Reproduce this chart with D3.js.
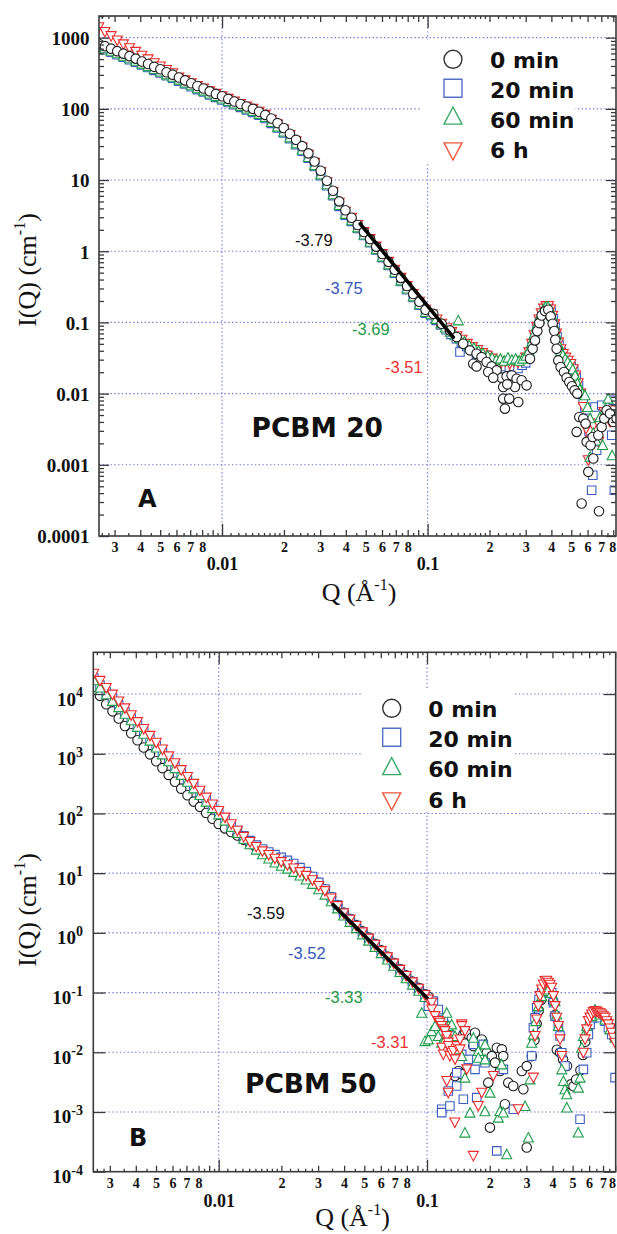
<!DOCTYPE html>
<html>
<head>
<meta charset="utf-8">
<script src="https://cdn.jsdelivr.net/npm/d3@7"></script>
<style>
  body { margin: 0; background: #fff; }
  svg { display: block; }
</style>
</head>
<body>
<svg id="fig" width="617" height="1234"></svg>
<script>
// ---------------- data ----------------
// common Q grid (Å^-1) of the low-Q part of both measurements
const qLow = [0.002512,0.002692,0.002884,0.003090,0.003311,0.003548,0.003802,0.004074,0.004365,0.004677,
  0.005012,0.005370,0.005754,0.006166,0.006607,0.007079,0.007586,0.008128,0.008710,0.009333,
  0.01,0.01072,0.01148,0.01230,0.01318,0.01413,0.01514,0.01622,0.01738,0.01862,
  0.01995,0.02138,0.02291,0.02455,0.02630,0.02818,0.03020,0.03236,0.03467,0.03715,
  0.03981,0.04266,0.04571,0.04898,0.05248,0.05623,0.06026,0.06457,0.06918,0.07413,
  0.07943,0.08511,0.09120,0.09772];

// PCBM 20 : I(Q) in cm^-1 on qLow
const aLow0  = [822,759,700,646,596,550,507,462,427,389,359,327,302,275,251,229,209,193,176,162,
  150,138,127,117,108,100,91.2,82.2,73.3,63.1,53.7,44.7,36.7,29.9,23.7,18.2,13.5,9.77,7.08,5.01,
  3.76,2.95,2.34,1.86,1.48,1.16,0.912,0.708,0.550,0.422,0.324,0.251,0.195,0.151];
const aLow20 = [733,676,624,575,531,490,452,412,380,347,320,292,269,245,224,204,186,172,157,145,
  133,123,114,105,96.6,89.1,81.3,73.3,62.4,53.7,45.7,38.0,31.3,25.4,20.2,15.5,11.5,8.32,6.03,4.27,
  3.20,2.63,2.09,1.66,1.32,1.04,0.813,0.631,0.490,0.376,0.288,0.224,0.174,0.135];
const aLow60 = [767,708,653,603,556,513,473,432,398,363,335,305,282,257,234,214,195,180,164,151,
  140,129,119,110,101,93.3,85.1,76.7,65.3,56.2,47.9,39.8,32.7,26.6,21.1,16.2,12.0,8.71,6.31,4.47,
  3.35,2.72,2.16,1.72,1.36,1.07,0.841,0.653,0.507,0.389,0.299,0.232,0.180,0.140];
const aLow6h = [1400,1200,1050,912,804,708,631,556,495,437,394,351,316,275,251,229,209,193,176,162,
  150,138,127,117,108,100,91.2,82.2,70.0,60.3,51.3,42.7,35.1,28.5,22.6,17.4,12.9,9.33,6.76,4.79,
  3.59,2.95,2.34,1.86,1.48,1.16,0.912,0.708,0.550,0.422,0.324,0.251,0.195,0.151];

// PCBM 20 : high-Q points [Q, I]
const aHigh0 = [[0.1065,0.132],[0.117,0.0958],[0.1284,0.0772],[0.1384,0.0623],[0.149,0.0502],[0.1606,0.0405],
  [0.173,0.0363],[0.183,0.0326],[0.1936,0.0278],[0.2048,0.0241],[0.2166,0.0212],[0.229,0.01675],[0.2423,0.01748],
  [0.2563,0.01806],[0.271,0.0162],[0.2867,0.01537],[0.303,0.01307],[0.3147,0.0309],[0.3243,0.0427],[0.3328,0.0559],
  [0.3417,0.0756],[0.3494,0.0979],[0.3587,0.1253],[0.3723,0.1442],[0.3864,0.1506],[0.3967,0.1214],[0.4057,0.0958],
  [0.4133,0.0756],[0.418,0.0571],[0.4243,0.0427],[0.4322,0.0293],[0.4436,0.0236],[0.4605,0.0201],[0.4745,0.01675],
  [0.4889,0.01456],[0.5038,0.01266],[0.519,0.01112],[0.5348,0.00999],[0.5469,0.0047],[0.5719,0.00446],[0.5871,0.00379],
  [0.5937,0.0021],[0.621,0.00188],[0.635,0.00246],[0.6049,0.000796],[0.6397,0.001224],[0.6766,0.0026],[0.7024,0.0034],
  [0.7237,0.00446],[0.7428,0.00583],[0.771,0.00524],[0.8003,0.004],[0.8309,0.00446],
  [0.1667,0.0263],[0.173,0.0241],[0.1972,0.0201],[0.2086,0.01675],[0.2333,0.0085],[0.2495,0.0085],[0.2377,0.00615],
  [0.2761,0.00763],[0.2333,0.0124],[0.266,0.0124],[0.5308,0.0029],[0.5614,0.000286],[0.6818,0.000223],[0.2441,0.0135]];
const aHigh20 = [[0.104,0.125],[0.110,0.107],[0.116,0.092],[0.123,0.079],[0.130,0.068],[0.138,0.059],[0.1437,0.0384],
  [0.146,0.052],[0.155,0.046],[0.164,0.041],[0.173,0.0355],[0.183,0.036],[0.193,0.0345],[0.204,0.03],[0.215,0.027],
  [0.226,0.025],[0.238,0.024],[0.25,0.0235],[0.262,0.024],[0.275,0.0225],[0.288,0.025],[0.3,0.027],[0.312,0.034],
  [0.322,0.046],[0.332,0.064],[0.341,0.085],[0.35,0.108],[0.359,0.13],[0.369,0.15],[0.379,0.162],[0.389,0.158],
  [0.399,0.14],[0.408,0.112],[0.417,0.085],[0.426,0.063],[0.436,0.048],[0.447,0.038],[0.459,0.032],[0.472,0.029],
  [0.486,0.026],[0.5,0.024],[0.514,0.0205],[0.528,0.017],[0.542,0.013],[0.556,0.01],[0.571,0.00805],[0.582,0.0065],
  [0.595,0.0045],[0.61,0.003],[0.625,0.0022],[0.636,0.000714],[0.628,0.00044],[0.652,0.0065],[0.664,0.0016],
  [0.703,0.00685],[0.743,0.0047],[0.786,0.0026],[0.8,0.00805],[0.81,0.00044]];
const aHigh60 = [[0.104,0.13],[0.110,0.112],[0.116,0.097],[0.122,0.085],[0.129,0.074],[0.136,0.066],[0.141,0.107],
  [0.143,0.06],[0.151,0.054],[0.159,0.048],[0.168,0.044],[0.177,0.04],[0.186,0.037],[0.196,0.034],[0.206,0.032],
  [0.216,0.03],[0.226,0.031],[0.236,0.029],[0.246,0.032],[0.257,0.03],[0.268,0.031],[0.279,0.029],[0.290,0.031],
  [0.301,0.034],[0.311,0.04],[0.320,0.052],[0.329,0.068],[0.338,0.088],[0.347,0.11],[0.356,0.132],[0.365,0.152],
  [0.375,0.166],[0.385,0.168],[0.395,0.15],[0.404,0.122],[0.413,0.092],[0.422,0.068],[0.432,0.05],[0.443,0.04],
  [0.455,0.035],[0.467,0.031],[0.48,0.028],[0.494,0.025],[0.508,0.022],[0.522,0.018],[0.536,0.014],[0.55,0.0115],
  [0.565,0.01],[0.583,0.0095],[0.6,0.0065],[0.617,0.0045],[0.617,0.0013],[0.64,0.0028],[0.66,0.0022],[0.69,0.0047],
  [0.71,0.0019],[0.73,0.006],[0.755,0.0085],[0.79,0.00136],[0.81,0.005]];
const aHigh6h = [[0.105,0.13],[0.111,0.11],[0.117,0.096],[0.124,0.083],[0.131,0.073],[0.139,0.064],[0.147,0.057],
  [0.156,0.05],[0.165,0.045],[0.175,0.041],[0.185,0.037],[0.195,0.034],[0.206,0.031],[0.217,0.029],[0.228,0.027],
  [0.239,0.028],[0.251,0.026],[0.263,0.028],[0.275,0.027],[0.288,0.029],[0.3,0.032],[0.311,0.038],[0.321,0.05],
  [0.33,0.066],[0.339,0.087],[0.348,0.11],[0.357,0.134],[0.367,0.156],[0.377,0.17],[0.387,0.17],[0.397,0.152],
  [0.406,0.124],[0.415,0.094],[0.424,0.07],[0.434,0.052],[0.445,0.042],[0.457,0.036],[0.47,0.032],[0.483,0.029],
  [0.497,0.026],[0.511,0.022],[0.525,0.018],[0.54,0.014],[0.556,0.01],[0.572,0.0065],[0.59,0.0032],[0.605,0.00116],
  [0.62,0.0022],[0.64,0.0035],[0.676,0.0038],[0.68,0.0021],[0.72,0.0055],[0.771,0.004],[0.8,0.0058]];

// PCBM 50 : I(Q) in cm^-1 on qLow
const bLow0  = [13200,9330,6760,5130,3890,2920,2210,1680,1270,977,750,575,442,339,260,202,158,129,102,81.3,
  66.8,56.2,49.0,42.7,36.3,30.9,26.9,24.0,21.4,19.3,17.4,15.5,13.6,11.9,10.2,8.61,6.84,5.37,3.98,2.92,
  2.19,1.72,1.35,1.06,0.832,0.653,0.513,0.403,0.316,0.248,0.195,0.153,0.120,0.0944];
const bLow20 = [18600,14100,10800,8410,6530,5010,3890,3020,2320,1780,1360,1050,804,617,473,363,282,219,170,132,
  104,81.3,64.6,51.9,42.2,35.1,29.5,25.4,22.6,20.4,18.4,16.4,14.5,12.4,10.6,8.81,7.0,5.43,3.98,2.92,
  2.16,1.68,1.32,1.04,0.813,0.638,0.501,0.394,0.309,0.243,0.191,0.150,0.117,0.0923];
const bLow60 = [17000,12900,9890,7670,6030,4680,3630,2820,2160,1660,1270,977,750,575,442,339,263,204,158,123,
  96.6,75.9,59.6,47.3,37.6,30.5,24.8,20.7,17.6,15.1,13.3,11.9,10.5,9.12,7.85,6.61,5.37,4.37,3.39,2.57,
  1.95,1.53,1.20,0.944,0.741,0.582,0.457,0.359,0.282,0.221,0.174,0.136,0.107,0.0841];
const bLow6h = [21900,16600,12600,9770,7500,5750,4420,3390,2600,1995,1530,1175,902,692,531,407,313,240,184,141,
  110,85.1,66.1,51.3,40.5,33.3,27.5,23.2,20.1,17.4,15.3,13.6,12.0,10.4,9.02,7.59,6.10,5.01,3.76,2.80,
  2.11,1.66,1.30,1.02,0.802,0.631,0.495,0.389,0.305,0.240,0.189,0.148,0.116,0.0912];

// PCBM 50 : high-Q points [Q, I]
const bHigh0 = [[0.1015,0.085],[0.105,0.066],[0.109,0.052],[0.114,0.041],[0.119,0.033],[0.1363,0.004],[0.1414,0.00485],
  [0.1467,0.0043],[0.1493,0.0199],[0.152,0.0226],[0.158,0.0199],[0.164,0.01754],[0.1668,0.0127],[0.17,0.0213],
  [0.1832,0.0164],[0.1936,0.00985],[0.1968,0.0031],[0.2005,0.000548],[0.2046,0.00863],[0.212,0.0067],[0.2163,0.0119],
  [0.2239,0.00485],[0.2286,0.0112],[0.2323,0.00863],[0.2366,0.00135],[0.2455,0.0031],[0.2594,0.00272],[0.2851,0.00485],
  [0.29,0.0024],[0.301,0.00587],[0.301,0.000254],[0.3186,0.00863],[0.328,0.016],[0.336,0.03],[0.344,0.05],[0.353,0.075],
  [0.362,0.098],[0.372,0.112],[0.383,0.114],[0.394,0.098],[0.403,0.07],[0.411,0.042],[0.42,0.011],[0.435,0.0099],
  [0.45,0.0076],[0.47,0.0059],[0.49,0.0029],[0.505,0.0027],[0.52,0.0035],[0.545,0.005],[0.56,0.009],[0.575,0.015],
  [0.59,0.025],[0.61,0.034],[0.63,0.042],[0.65,0.045],[0.675,0.044],[0.7,0.04],[0.73,0.034],[0.76,0.026],[0.79,0.018]];
const bHigh20 = [[0.1015,0.0593],[0.1073,0.0719],[0.1133,0.0522],[0.1177,0.00111],[0.1176,0.000976],[0.1198,0.0355],
  [0.1243,0.0275],[0.1289,0.0187],[0.1288,0.00126],[0.1266,0.00225],[0.1338,0.01355],[0.1363,0.01049],[0.1388,0.00455],
  [0.1388,0.00272],[0.1467,0.00922],[0.1494,0.00163],[0.1579,0.0076],[0.1669,0.01355],[0.17,0.00518],[0.1732,0.00174],
  [0.1864,0.01355],[0.1898,0.00669],[0.2161,0.000223],[0.2326,0.00518],[0.26,0.00111],[0.318,0.00865],[0.324,0.0258],
  [0.33,0.0379],[0.3361,0.0556],[0.3448,0.0767],[0.3552,0.0991],[0.3686,0.1202],[0.3824,0.1202],[0.3969,0.0991],
  [0.4043,0.0675],[0.4118,0.0404],[0.4273,0.0275],[0.4352,0.0187],[0.4434,0.00983],[0.4597,0.00589],[0.5427,0.000755],
  [0.5631,0.00518],[0.5843,0.00983],[0.5951,0.0199],[0.6062,0.0293],[0.6289,0.0379],[0.6524,0.0404],[0.677,0.0379],
  [0.7156,0.0333],[0.7425,0.0258],[0.7704,0.0199],[0.7993,0.00376]];
const bHigh60 = [[0.0943,0.0459],[0.0978,0.0154],[0.1015,0.01643],[0.1053,0.0226],[0.1093,0.0275],[0.1133,0.0187],
  [0.1176,0.01445],[0.122,0.01643],[0.1243,0.0459],[0.1266,0.0275],[0.1313,0.0293],[0.1363,0.0187],[0.1414,0.01118],
  [0.1467,0.00865],[0.152,0.00376],[0.152,0.000452],[0.1608,0.000976],[0.1669,0.01752],[0.1764,0.01049],[0.1764,0.00811],
  [0.1897,0.00103],[0.1898,0.01355],[0.1898,0.00761],[0.2007,0.00211],[0.22,0.000805],[0.2241,0.00104],[0.2283,0.00627],
  [0.2323,0.00098],[0.2413,0.000196],[0.2955,0.00126],[0.3066,0.000373],[0.3123,0.00352],[0.318,0.01445],[0.324,0.0199],
  [0.3325,0.0333],[0.3423,0.0593],[0.3552,0.0872],[0.3686,0.1057],[0.3824,0.1127],[0.3969,0.0991],[0.4118,0.0719],
  [0.4195,0.043],[0.4273,0.0275],[0.4434,0.00518],[0.4515,0.0033],[0.4597,0.0024],[0.4684,0.00198],[0.4688,0.00119],
  [0.532,0.000453],[0.5328,0.00256],[0.5427,0.00376],[0.5527,0.01193],[0.5631,0.0187],[0.5843,0.0275],[0.6175,0.0404],
  [0.6407,0.0522],[0.677,0.043],[0.7156,0.0355],[0.7558,0.0242],[0.7993,0.01752]];
const bHigh6h = [[0.1015,0.0767],[0.1054,0.0675],[0.1053,0.0522],[0.1093,0.0404],[0.1133,0.0333],[0.1154,0.0313],
  [0.1176,0.0275],[0.1177,0.0119],[0.1197,0.0242],[0.1197,0.0092],[0.122,0.0226],[0.1243,0.01643],[0.1244,0.0187],
  [0.1244,0.0033],[0.1265,0.0145],[0.1265,0.0021],[0.1266,0.01271],[0.1288,0.00863],[0.1313,0.00983],[0.1337,0.0105],
  [0.136,0.000665],[0.1363,0.00761],[0.139,0.0127],[0.1441,0.0164],[0.144,0.01118],[0.1467,0.0293],[0.1468,0.0274],
  [0.1522,0.0226],[0.1553,0.00518],[0.1668,0.000184],[0.1763,0.00126],[0.1832,0.0021],[0.208,0.004],[0.274,0.00111],
  [0.324,0.00376],[0.33,0.0187],[0.3361,0.0355],[0.3423,0.0593],[0.3487,0.0872],[0.3552,0.1127],[0.3619,0.1366],
  [0.3686,0.1553],[0.3755,0.158],[0.3824,0.1457],[0.3895,0.135],[0.3969,0.1202],[0.4043,0.0872],[0.4118,0.0593],
  [0.4195,0.0379],[0.4273,0.0275],[0.4352,0.01643],[0.4434,0.00865],[0.5631,0.00983],[0.5736,0.01643],[0.5843,0.0242],
  [0.5951,0.0333],[0.6062,0.038],[0.6175,0.043],[0.6289,0.047],[0.6407,0.0489],[0.6527,0.048],[0.6648,0.0459],
  [0.677,0.045],[0.6897,0.043],[0.7025,0.04],[0.7156,0.0379],[0.7289,0.033],[0.7425,0.0293],[0.7563,0.025],
  [0.7704,0.0212],[0.7848,0.0175],[0.7993,0.01445]];

// power-law fit segments [Q, I]
const fitA = [[0.047, 2.42], [0.1332, 0.0622]];
const fitB = [[0.0354, 2.97], [0.1, 0.082]];

// legend entries and slope annotations
const seriesNames = ['0 min', '20 min', '60 min', '6 h'];
const slopesA = ['-3.79', '-3.75', '-3.69', '-3.51'];
const slopesB = ['-3.59', '-3.52', '-3.33', '-3.31'];

// axis tick values and labels
const xDecades = [0.01, 0.1];
const xDecadeLabels = ['0.01', '0.1'];
const xDigitLabels = ['2', '3', '4', '5', '6', '7', '8'];
const yDecadesA = [1e-4, 1e-3, 1e-2, 1e-1, 1, 10, 100, 1000];
const yLabelsA = ['0.0001', '0.001', '0.01', '0.1', '1', '10', '100', '1000'];
const yDecadesB = [1e-4, 1e-3, 1e-2, 1e-1, 1, 10, 100, 1000, 10000];
const yExpB = ['-4', '-3', '-2', '-1', '0', '1', '2', '3', '4'];

// ---------------- drawing ----------------
const svg = d3.select('#fig');
svg.append('rect').attr('width', 617).attr('height', 1234).attr('fill', '#fff');
const defs = svg.append('defs');

const FRAME = '#3a3a3a';
const GRID = '#7479d6';
const SERIF = "'Liberation Serif','Times New Roman',serif";
const SANS = "'Liberation Sans',Arial,sans-serif";
const BOLDSANS = "'DejaVu Sans',Verdana,sans-serif";

const STYLE = {
  '0 min':  {shape: 'circle', color: '#1e1e1e', legend: '#333333', size: 9.5, text: '#111111'},
  '20 min': {shape: 'square', color: '#3d5ec0', legend: '#5470c4', size: 8.5, text: '#3557b9'},
  '60 min': {shape: 'up',     color: '#1f9c4b', legend: '#38ab66', size: 10,  text: '#1f9a46'},
  '6 h':    {shape: 'down',   color: '#ec2a2a', legend: '#f0553c', size: 10,  text: '#ee3131'}
};

function symPath(shape, s) {
  const h = s / 2;
  if (shape === 'square') return `M${-h},${-h}H${h}V${h}H${-h}Z`;
  if (shape === 'up') return `M0,${-h}L${h},${h * 0.9}L${-h},${h * 0.9}Z`;
  if (shape === 'down') return `M0,${h}L${h},${-h * 0.9}L${-h},${-h * 0.9}Z`;
  return `M${h},0A${h},${h} 0 1,1 ${-h},0A${h},${h} 0 1,1 ${h},0Z`;
}

function xTickSets(dom) {
  const inside = v => v >= dom[0] * 0.999 && v <= dom[1] * 1.001;
  const medium = [], small = [], labelled = [];
  [0.001, 0.01, 0.1].forEach(d => {
    for (let m = 2; m <= 9; m++) {
      medium.push(+(m * d).toPrecision(6));
      if (m <= 8) labelled.push({v: +(m * d).toPrecision(6), t: xDigitLabels[m - 2]});
    }
    [1.1, 1.2, 1.3, 1.4, 1.5, 1.6, 1.7, 1.8, 1.9, 2.2, 2.4, 2.6, 2.8,
     3.5, 4.5, 5.5, 6.5, 7.5, 8.5, 9.5].forEach(m => small.push(+(m * d).toPrecision(6)));
  });
  return {
    medium: medium.filter(inside),
    small: small.filter(inside),
    labelled: labelled.filter(o => inside(o.v))
  };
}

function drawPanel(p) {
  const x = d3.scaleLog().domain(p.xDom).range([p.l, p.r]);
  const y = d3.scaleLog().domain(p.yDom).range([p.b, p.t]);
  const g = svg.append('g');

  // dotted grid
  const grid = g.append('g').attr('stroke', GRID).attr('stroke-width', 1.1)
    .attr('stroke-dasharray', '1.4,2.4').attr('fill', 'none');
  grid.selectAll('line.gh').data(p.yDec.filter(v => v > p.yDom[0] && v < p.yDom[1])).join('line')
    .attr('class', 'gh').attr('x1', p.l).attr('x2', p.r).attr('y1', d => y(d)).attr('y2', d => y(d));
  grid.selectAll('line.gv').data(xDecades).join('line')
    .attr('class', 'gv').attr('y1', p.t).attr('y2', p.b).attr('x1', d => x(d)).attr('x2', d => x(d));

  // legend backdrop hides the grid behind it
  g.append('rect').attr('x', p.legendBox[0]).attr('y', p.legendBox[1])
    .attr('width', p.legendBox[2]).attr('height', p.legendBox[3]).attr('fill', '#fff');

  // data
  defs.append('clipPath').attr('id', 'clip' + p.id).append('rect')
    .attr('x', p.l).attr('y', p.t).attr('width', p.r - p.l).attr('height', p.b - p.t);
  const dataG = g.append('g').attr('clip-path', `url(#clip${p.id})`);
  p.order.forEach(name => {
    const st = STYLE[name];
    const s = p.series[name];
    const pts = qLow.map((q, i) => [q, s.low[i]]).concat(s.high);
    dataG.append('g').selectAll('path').data(pts).join('path')
      .attr('d', symPath(st.shape, st.size))
      .attr('transform', d => `translate(${x(d[0]).toFixed(2)},${y(d[1]).toFixed(2)})`)
      .attr('fill', '#fff').attr('stroke', st.color).attr('stroke-width', 1.1);
  });

  // fit line
  dataG.append('line')
    .attr('x1', x(p.fit[0][0])).attr('y1', y(p.fit[0][1]))
    .attr('x2', x(p.fit[1][0])).attr('y2', y(p.fit[1][1]))
    .attr('stroke', '#000').attr('stroke-width', 3.6).attr('stroke-linecap', 'round');

  // ticks (inward) on all four sides
  const ticks = xTickSets(p.xDom);
  function tickAxis(axisFn, scale, values, len, tx, ty) {
    const a = axisFn(scale).tickValues(values).tickSize(-len).tickFormat('');
    const ag = g.append('g').attr('transform', `translate(${tx},${ty})`).call(a);
    ag.select('.domain').remove();
    ag.selectAll('line').attr('stroke', FRAME).attr('stroke-width', 1.3);
  }
  [[d3.axisBottom, 0, p.b], [d3.axisTop, 0, p.t]].forEach(([fn, tx, ty]) => {
    tickAxis(fn, x, xDecades, 12, tx, ty);
    tickAxis(fn, x, ticks.medium, 6, tx, ty);
    tickAxis(fn, x, ticks.small, 3, tx, ty);
  });
  [[d3.axisLeft, p.l, 0], [d3.axisRight, p.r, 0]].forEach(([fn, tx, ty]) => {
    tickAxis(fn, y, p.yDec, p.yMajorLen, tx, ty);
    if (p.yMinor.length) tickAxis(fn, y, p.yMinor, 5, tx, ty);
  });

  // frame
  g.append('rect').attr('x', p.l).attr('y', p.t).attr('width', p.r - p.l).attr('height', p.b - p.t)
    .attr('fill', 'none').attr('stroke', FRAME).attr('stroke-width', 1.6);

  // x tick labels: digits row and decade row
  const digitAxis = d3.axisBottom(x).tickValues(ticks.labelled.map(o => o.v))
    .tickFormat((d, i) => ticks.labelled[i].t).tickSize(0);
  const dg = g.append('g').attr('transform', `translate(0,${p.digitBase})`).call(digitAxis);
  dg.select('.domain').remove();
  dg.selectAll('text').attr('y', 0).attr('dy', null).attr('fill', '#111')
    .attr('font-family', SERIF).attr('font-weight', 'bold').attr('font-size', 14)
    .attr('x', d => Math.min(0, p.r - 1.5 - x(d) - 2.2));
  const decAxis = d3.axisBottom(x).tickValues(xDecades)
    .tickFormat((d, i) => xDecadeLabels[i]).tickSize(0);
  const decg = g.append('g').attr('transform', `translate(0,${p.decadeBase})`).call(decAxis);
  decg.select('.domain').remove();
  decg.selectAll('text').attr('y', 0).attr('dy', null).attr('fill', '#111')
    .attr('font-family', SERIF).attr('font-weight', 'bold').attr('font-size', 18);

  // y tick labels
  const yAxisLab = d3.axisLeft(y).tickValues(p.yDec).tickFormat('').tickSize(0);
  const yg = g.append('g').attr('transform', `translate(${p.yLabelX},0)`).call(yAxisLab);
  yg.select('.domain').remove();
  yg.selectAll('text').each(function (d, i) {
    const t = d3.select(this).attr('x', 0).attr('dy', null).attr('fill', '#111')
      .attr('font-family', SERIF).attr('font-weight', 'bold').attr('text-anchor', 'end');
    if (p.id === 'A') {
      t.attr('y', 6.8).attr('font-size', 19).text(yLabelsA[i]);
    } else {
      t.attr('y', 11).attr('font-size', 19).text(null);
      t.append('tspan').text('10');
      t.append('tspan').attr('dy', -8.5).attr('font-size', 14).text(yExpB[i]);
    }
  });

  // axis titles
  const xt = svg.append('text').attr('x', p.xTitle[0]).attr('y', p.xTitle[1])
    .attr('text-anchor', 'middle').attr('font-family', SERIF).attr('font-size', 26).attr('fill', '#111');
  xt.append('tspan').text('Q (Å');
  xt.append('tspan').attr('dy', -11).attr('font-size', 16).text('-1');
  xt.append('tspan').attr('dy', 11).text(')');
  const yt = svg.append('text').attr('transform', `translate(${p.yTitle[0]},${p.yTitle[1]}) rotate(-90)`)
    .attr('text-anchor', 'middle').attr('font-family', SERIF).attr('font-size', 26).attr('fill', '#111');
  yt.append('tspan').text('I(Q) (cm');
  yt.append('tspan').attr('dy', -11).attr('font-size', 16).text('-1');
  yt.append('tspan').attr('dy', 11).text(')');

  // legend
  seriesNames.forEach((name, i) => {
    const st = STYLE[name];
    svg.append('path').attr('d', symPath(st.shape, 18))
      .attr('transform', `translate(${p.legend.sx},${p.legend.sy[i]})`)
      .attr('fill', 'none').attr('stroke', st.legend).attr('stroke-width', 1.4);
    svg.append('text').attr('x', p.legend.tx).attr('y', p.legend.ty[i])
      .attr('font-family', BOLDSANS).attr('font-weight', 'bold').attr('font-size', 22)
      .attr('fill', '#111').text(name);
  });

  // slope annotations
  p.slopes.forEach((txt, i) => {
    svg.append('text').attr('x', p.slopePos[i][0]).attr('y', p.slopePos[i][1])
      .attr('font-family', SANS).attr('font-size', 16.5)
      .attr('fill', STYLE[seriesNames[i]].text).text(txt);
  });

  // sample name and panel letter
  svg.append('text').attr('x', p.name[0]).attr('y', p.name[1])
    .attr('font-family', BOLDSANS).attr('font-weight', 'bold').attr('font-size', 26.5)
    .attr('fill', '#111').text(p.name[2]);
  svg.append('text').attr('x', p.letter[0]).attr('y', p.letter[1])
    .attr('font-family', BOLDSANS).attr('font-weight', 'bold').attr('font-size', 24)
    .attr('fill', '#111').text(p.id);
}

function yMinorTicks(decades, dom) {
  const out = [];
  decades.forEach(d => { for (let m = 2; m <= 9; m++) out.push(+(m * d).toPrecision(6)); });
  return out.filter(v => v > dom[0] && v < dom[1]);
}

const domA = [1e-4, 2014];
drawPanel({
  id: 'A', l: 99, r: 616, t: 16, b: 536,
  xDom: [0.00252, 0.825], yDom: domA,
  yDec: yDecadesA, yMinor: yMinorTicks(yDecadesA, domA), yMajorLen: 10,
  series: {
    '0 min': {low: aLow0, high: aHigh0}, '20 min': {low: aLow20, high: aHigh20},
    '60 min': {low: aLow60, high: aHigh60}, '6 h': {low: aLow6h, high: aHigh6h}
  },
  order: ['20 min', '6 h', '60 min', '0 min'],
  fit: fitA,
  legendBox: [422, 39.5, 153, 123.5],
  legend: {sx: 453, sy: [59.3, 88.3, 116, 151], tx: 490, ty: [68, 97.5, 127.5, 158]},
  slopes: slopesA, slopePos: [[295, 245.5], [325, 293.5], [352, 335], [385, 372.5]],
  name: [251.5, 436.7, 'PCBM 20'], letter: [138, 506.5],
  digitBase: 552, decadeBase: 570, yLabelX: 89.5,
  xTitle: [359, 601], yTitle: [36, 270]
});

const domB = [1e-4, 5e4];
drawPanel({
  id: 'B', l: 93.3, r: 615.7, t: 652.3, b: 1171.7,
  xDom: [0.0025, 0.805], yDom: domB,
  yDec: yDecadesB, yMinor: [], yMajorLen: 12,
  series: {
    '0 min': {low: bLow0, high: bHigh0}, '20 min': {low: bLow20, high: bHigh20},
    '60 min': {low: bLow60, high: bHigh60}, '6 h': {low: bLow6h, high: bHigh6h}
  },
  order: ['0 min', '20 min', '60 min', '6 h'],
  fit: fitB,
  legendBox: [362, 689, 151, 123],
  legend: {sx: 391.7, sy: [708.3, 737.3, 766.5, 801], tx: 428.3, ty: [716.7, 747.3, 777.3, 808.3]},
  slopes: slopesB, slopePos: [[247, 919], [288, 959], [325, 1002.5], [371, 1047.5]],
  name: [245, 1092.7, 'PCBM 50'], letter: [129, 1146],
  digitBase: 1188, decadeBase: 1207, yLabelX: 83,
  xTitle: [352.5, 1226], yTitle: [36, 910]
});
</script>
</body>
</html>
